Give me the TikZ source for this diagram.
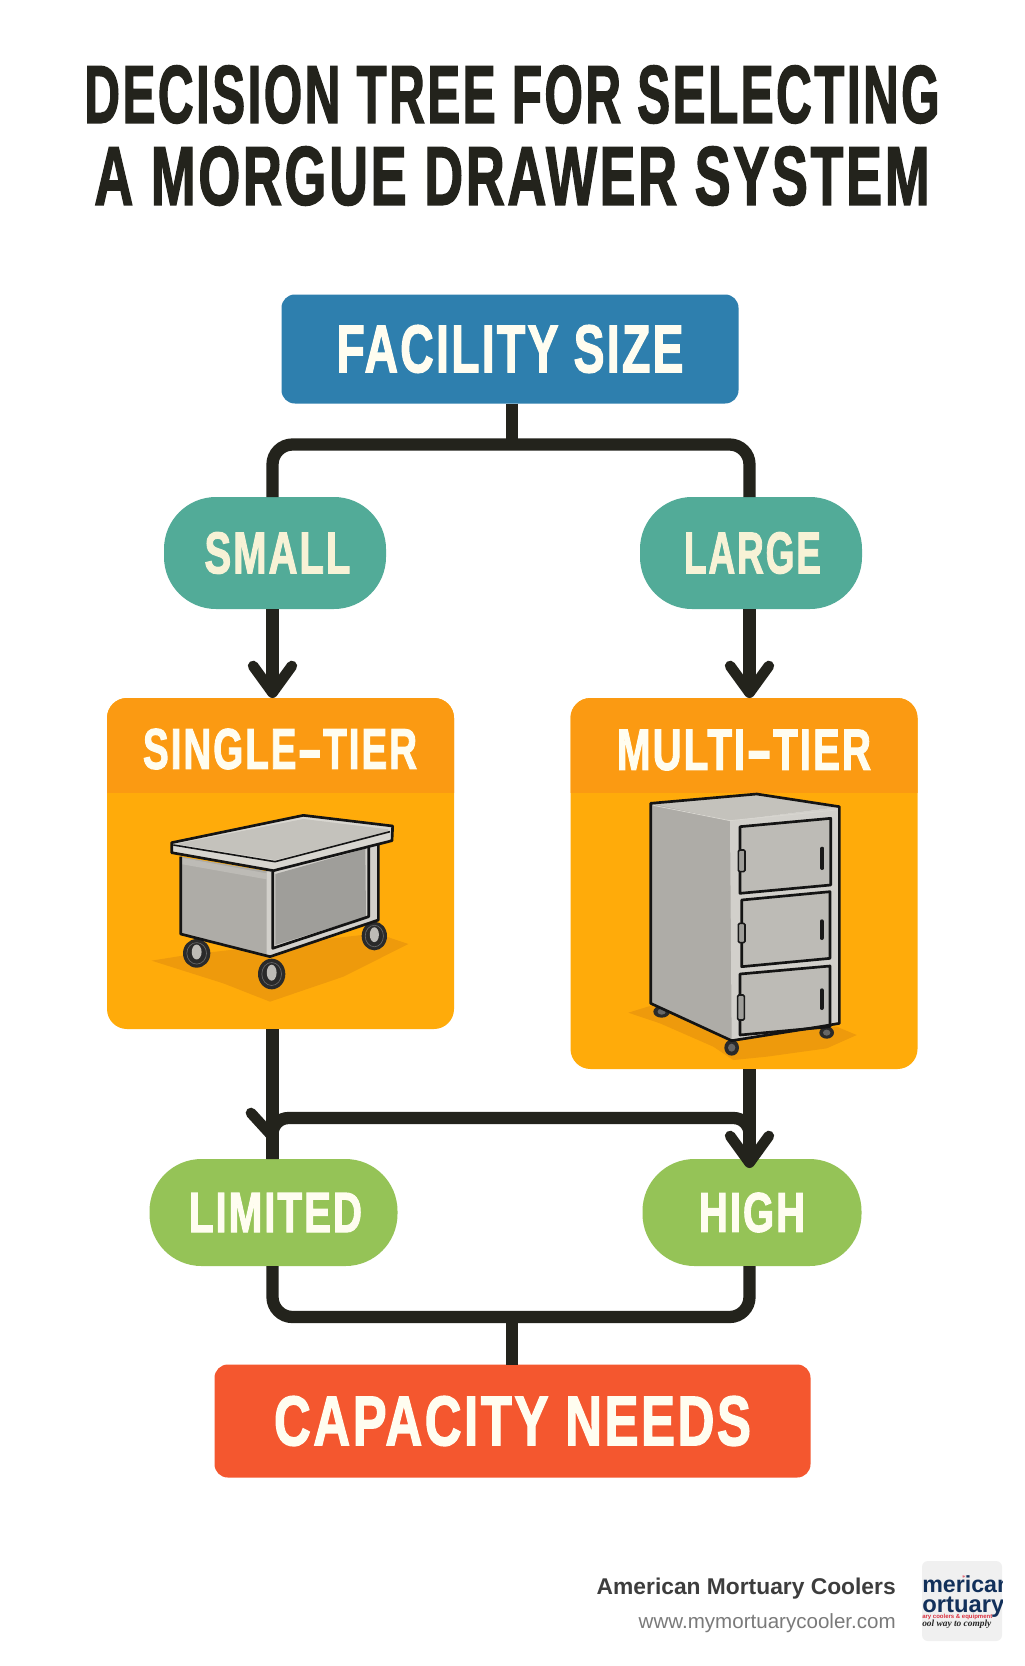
\documentclass[tikz,border=0pt]{standalone}
\usepackage{fontspec}
\usepackage{graphicx}
\usetikzlibrary{arrows.meta}
\newfontfamily\condf[FakeBold=2.2,LetterSpace=5]{Liberation Sans}
\newfontfamily\footf{Liberation Sans}
\newfontfamily\logof{Liberation Sans}
\newfontfamily\logoscript{Liberation Serif}
\newdimen\pxu \pxu=0.75pt
\newcommand{\fitcap}[3]{\resizebox{#1\pxu}{#2\pxu}{\condf\bfseries #3}}
\newcommand{\fitw}[2]{\resizebox{#1\pxu}{!}{#2}}
\newcommand{\wdash}{\kern0.03em\scalebox{1.9}[1]{-}\kern0.03em}
\definecolor{ink}{HTML}{23231C}
\definecolor{cream}{HTML}{FFFDF0}
\definecolor{creamb}{HTML}{F7F2D6}
\definecolor{bluebox}{HTML}{2E7FAE}
\definecolor{teal}{HTML}{52AB98}
\definecolor{cardbody}{HTML}{FFAB0A}
\definecolor{cardband}{HTML}{FB9A12}
\definecolor{grass}{HTML}{95C357}
\definecolor{redbox}{HTML}{F4572F}
\definecolor{shadowc}{HTML}{EE9A0C}
\definecolor{navy}{HTML}{12305A}
\definecolor{logored}{HTML}{D9303F}
\definecolor{metaltop}{HTML}{C4C2BC}
\definecolor{metallight}{HTML}{D8D6D0}
\definecolor{metalside}{HTML}{AEACA7}
\definecolor{metalpanel}{HTML}{9F9E9A}
\definecolor{metaldoor}{HTML}{BDBBB6}
\definecolor{metalfront}{HTML}{D2D0CB}
\definecolor{wheel}{HTML}{2A2A2A}
\tikzset{
  dims/.style 2 args={minimum width=#1*0.75pt,minimum height=#2*0.75pt,inner sep=0pt,outer sep=0pt},
  boxnode/.style={draw=none,rounded corners=10pt},
  pillnode/.style={draw=none,rounded corners=39pt},
  cardnode/.style={draw=none,rounded corners=15pt,fill=cardbody},
  conn/.style={draw=ink,line width=9.2pt,rounded corners=15pt},
  straightconn/.style={draw=ink,line width=9.2pt},
  barb/.style={-{Straight Barb[length=20pt,width=29pt,line width=8pt,round]}},
  edge1/.style={draw=black!92,line width=2pt,line join=round},
  edge2/.style={draw=black!92,line width=1.2pt,line join=round},
}
\begin{document}
\begin{tikzpicture}[x=0.75pt,y=-0.75pt]
\useasboundingbox (0,0) rectangle (1024,1666);
\fill[white] (0,0) rectangle (1024,1666);

% title
\node[inner sep=0pt,text=ink] (title1) at (512,94.5) {\fitcap{855}{57}{DECISION TREE FOR SELECTING}};
\node[inner sep=0pt,text=ink] (title2) at (512,176) {\fitcap{835}{58}{A MORGUE DRAWER SYSTEM}};

% main nodes
\node[boxnode,dims={457}{109},fill=bluebox,text=cream] (facility) at (510,349) {\fitcap{347}{47}{FACILITY SIZE}};
\node[pillnode,dims={222}{112},fill=teal,text=creamb] (small) at (275,553) {\kern5\pxu\fitcap{146}{41}{SMALL}};
\node[pillnode,dims={222}{112},fill=teal,text=creamb] (large) at (751,553) {\kern3\pxu\fitcap{137}{41}{LARGE}};

\node[cardnode,dims={347}{331}] (single) at (280.5,863.5) {};
\node[cardnode,dims={347}{371}] (multi) at (744,883.5) {};
\begin{scope}
\clip (100,690) rectangle (930,792);
\fill[cardband,rounded corners=15pt] (107,698) rectangle (454,820);
\fill[cardband,rounded corners=15pt] (570.5,698) rectangle (917.5,820);
\end{scope}
\node[inner sep=0pt,text=cream] (singlet) at (280,749) {\fitcap{274}{40}{SINGLE\wdash TIER}};
\node[inner sep=0pt,text=cream] (multit) at (744,750) {\fitcap{254}{40}{MULTI\wdash TIER}};

\node[pillnode,dims={248}{107},fill=grass,text=cream] (limited) at (273.5,1212.5) {\kern4\pxu\fitcap{173}{39}{LIMITED}};
\node[pillnode,dims={219}{107},fill=grass,text=cream] (high) at (752,1212.5) {\fitcap{106}{39}{HIGH}};
\node[boxnode,dims={596}{113},fill=redbox,text=cream] (capacity) at (512.5,1421) {\fitcap{477}{49}{CAPACITY NEEDS}};

% connectors
\coordinate (colL) at (272.5,1000);
\coordinate (colR) at (749.5,1000);
\coordinate (split) at (512,444.5);
\coordinate (merge) at (512,1317);
\coordinate (cross) at (512,1118);
\coordinate (barbend) at (251,1113);
\coordinate (barbtip) at (272,1136);
\coordinate (hightip) at (752,1168);
\draw[straightconn] (facility.south -| split) -- (split);
\draw[conn] (colL |- small.north) |- (split) -| (colR |- large.north);
\draw[straightconn,barb] (colL |- small.south) -- (colL |- single.north);
\draw[straightconn,barb] (colR |- large.south) -- (colR |- multi.north);
\draw[straightconn] (colL |- single.south) -- (colL |- limited.north);
\draw[conn,rounded corners=12pt] (colL |- limited.north) |- (cross) -| (colR |- high.north);
\draw[draw=ink,line width=8pt,line cap=round] (barbend) -- (barbtip);
\draw[straightconn,barb] (colR |- multi.south) -- (colR |- hightip);
\draw[conn] (colL |- limited.south) |- (merge) -| (colR |- high.south);
\draw[straightconn] (merge) -- (merge |- capacity.north);

% single-tier cart
\begin{scope}[shift={(90,690)},x=0.25pt,y=-0.25pt]
\fill[shadowc] (185,812) -- (290,795) -- (860,730) -- (955,762) -- (760,860) -- (540,935) -- (400,880) -- cycle;
\foreach \cx/\cy/\rx/\ry in {320/790/41/43,545/852/41/46,853/738/38/43}{
  \fill[wheel] (\cx,\cy) ellipse [x radius=\rx,y radius=\ry];
  \draw[black!60,line width=0.5pt] (\cx,\cy) ellipse [x radius=\rx*0.72,y radius=\ry*0.75];
  \fill[metaldoor] (\cx,\cy-4) ellipse [x radius=\rx*0.36,y radius=\ry*0.52];
}
% left face and right face
\fill[metalside] (272,500) -- (540,545) -- (865,460) -- (865,690) -- (540,800) -- (272,732) -- cycle;
\fill[metaldoor] (272,503) -- (530,550) -- (530,568) -- (272,522) -- cycle;
\fill[metalfront] (530,545) -- (865,460) -- (865,690) -- (540,800) -- (530,795) -- cycle;
\fill[metalpanel] (556,552) -- (826,476) -- (828,680) -- (556,765) -- cycle;
\draw[edge1] (548,545) -- (548,775) -- (836,680) -- (836,470);
\draw[edge1] (272,500) -- (272,732) -- (540,800) -- (865,690) -- (865,460);
% slab
\fill[metallight] (245,458) -- (640,376) -- (908,408) -- (906,452) -- (550,542) -- (245,488) -- cycle;
\fill[metaltop] (258,462) -- (640,387) -- (895,418) -- (895,425) -- (555,510) -- cycle;
\draw[edge2] (250,465) -- (555,515) -- (900,425);
\draw[edge1] (245,458) -- (640,376) -- (908,408) -- (906,452) -- (550,542) -- (245,488) -- cycle;
\end{scope}

% multi-tier cabinet
\begin{scope}[shift={(560,690)},x=0.25pt,y=-0.25pt]
\fill[shadowc] (205,968) -- (280,945) -- (520,1040) -- (830,1010) -- (890,1035) -- (800,1075) -- (620,1100) -- (520,1110) -- (460,1070) -- (300,1000) -- cycle;
\foreach \cx/\cy/\rx/\ry in {305/965/25/18,515/1073/22/24,800/1028/22/18}{
  \fill[wheel] (\cx,\cy) ellipse [x radius=\rx,y radius=\ry];
  \fill[black!60] (\cx,\cy) ellipse [x radius=\rx*0.5,y radius=\ry*0.5];
}
\fill[metalside] (272,340) -- (590,312) -- (838,350) -- (838,1000) -- (780,1010) -- (515,1052) -- (272,940) -- cycle;
\fill[metaltop] (272,340) -- (590,312) -- (838,350) -- (510,392) -- cycle;
\fill[metalfront] (510,392) -- (838,350) -- (838,1000) -- (515,1052) -- cycle;
\foreach \xa/\ya/\xb/\yb/\yc/\yd in {540/410/812/385/585/610,545/630/810/605/805/830,540/852/810/828/1010/1035}{
  \fill[metaldoor] (\xa,\ya) -- (\xb,\yb) -- (\xb,\yc) -- (\xa,\yd) -- cycle;
  \draw[edge1] (\xa,\ya) -- (\xb,\yb) -- (\xb,\yc) -- (\xa,\yd) -- cycle;
}
\foreach \hx/\hya/\hyb in {787/470/540,785/688/750,785/895/960}{
  \draw[black!90,line width=3pt,line cap=round] (\hx,\hya+6) -- (\hx,\hyb-6);
}
\foreach \hx/\hya/\hyb in {545/480/545,545/700/758,543/915/990}{
  \draw[black!90,line width=1.2pt,fill=metalpanel,rounded corners=1pt] (\hx-10,\hya) rectangle (\hx+10,\hyb);
}
\draw[edge1] (272,340) -- (590,312) -- (838,350) -- (838,1000) -- (780,1010) -- (515,1052) -- (272,940) -- cycle;
\draw[metallight,line width=0.6pt] (280,346) -- (510,392) -- (830,360);
\end{scope}

% footer
\node[inner sep=0pt,anchor=base east,text=black!76] (brand) at (896,1594) {\fitw{299}{\footf\bfseries American Mortuary Coolers}};
\node[inner sep=0pt,anchor=base east,text=black!52] (site) at (896,1628) {\fitw{257}{\footf www.mymortuarycooler.com}};

% logo
\fill[black!6,rounded corners=4.5pt] (922,1561) rectangle (1002,1641);
\begin{scope}
\clip (922,1561) rectangle (1002,1641);
\node[inner sep=0pt,anchor=base west,text=navy] (logo1) at (922,1592) {\fitw{89}{\logof\bfseries merican}};
\node[inner sep=0pt,anchor=base west,text=navy] (logo2) at (922,1612.5) {\fitw{82}{\logof\bfseries ortuary}};
\node[inner sep=0pt,anchor=base west,text=logored] (logo3) at (922,1618) {\fitw{70}{\logof\bfseries ary coolers \& equipment}};
\node[inner sep=0pt,anchor=base west,text=black!85] (logo4) at (922,1626) {\fitw{69}{\logoscript\bfseries\itshape ool way to comply}};
\node[inner sep=0pt,text=logored,font=\tiny] (logostar) at (964,1578) {*};
\end{scope}
\end{tikzpicture}
\end{document}
